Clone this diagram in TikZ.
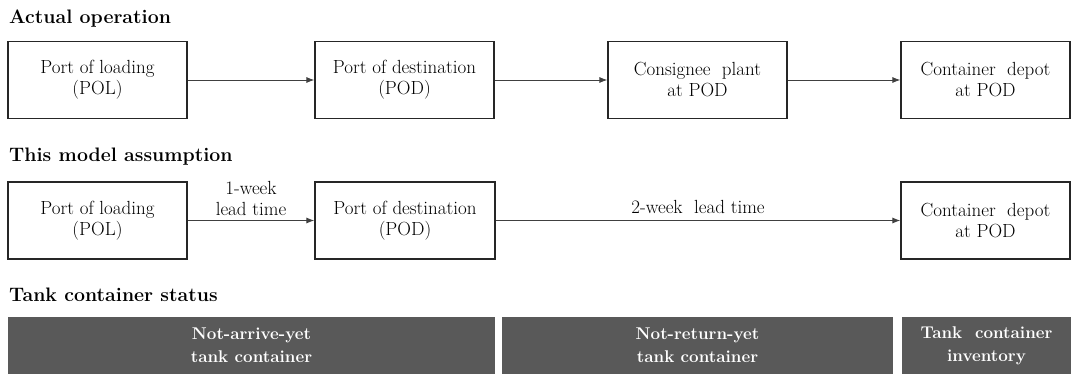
\documentclass[tikz,border=0pt]{standalone}
\usetikzlibrary{arrows.meta}
\definecolor{barfill}{RGB}{89,89,89}
\definecolor{lineclr}{RGB}{64,64,64}

\begin{document}
\begin{tikzpicture}[x=1pt,y=-1pt,
  stagebox/.style={draw=black!85,line width=1.2pt,minimum height=77,inner sep=0pt,
    align=center,font=\fontsize{19}{21}\selectfont},
  heading/.style={anchor=west,inner sep=0pt,font=\fontsize{19.5}{22}\selectfont\bfseries},
  statusbar/.style={fill=barfill,text=white,minimum height=57,inner sep=0pt,
    align=center,font=\fontsize{17}{23}\selectfont\bfseries},
  flow/.style={draw=lineclr,line width=0.9pt,-{Latex[length=8pt,width=6pt]}},
  lbl/.style={align=center,font=\fontsize{19}{21}\selectfont}]
\useasboundingbox (0,0) rectangle (1071,374);

% actual operation
\node[heading] (hactual) at (9,19) {Actual operation};
\node[stagebox,minimum width=179] (pol) at (97.5,80) {Port of loading\\(POL)};
\node[stagebox,minimum width=179] (pod) at (404.5,80) {Port of destination\\(POD)};
\node[stagebox,minimum width=179] (plant) at (697.5,80) {Consignee\ \ plant\\at POD};
\node[stagebox,minimum width=169] (depot) at (985.5,80) {Container\ \ depot\\at POD};
\draw[flow] (pol) -- (pod);
\draw[flow] (pod) -- (plant);
\draw[flow] (plant) -- (depot);

% model assumption
\node[heading] (hmodel) at (9,157) {This model assumption};
\node[stagebox,minimum width=179] (mpol) at (97.5,220.5) {Port of loading\\(POL)};
\node[stagebox,minimum width=180] (mpod) at (405,220.5) {Port of destination\\(POD)};
\node[stagebox,minimum width=169] (mdepot) at (985.5,220.5) {Container\ \ depot\\at POD};
\draw[flow] (mpol) -- node[lbl,above=1pt] (week1) {1-week\\lead time} (mpod);
\draw[flow] (mpod) -- node[lbl,above=3pt] (week2) {2-week\ \ lead time} (mdepot);

% tank container status
\node[heading] (hstatus) at (9,295) {Tank container status};
\node[statusbar,minimum width=487] (notarrive) at (251.5,345.5) {Not-arrive-yet\\tank container};
\node[statusbar,minimum width=391] (notreturn) at (697.5,345.5) {Not-return-yet\\tank container};
\node[statusbar,minimum width=169] (inventory) at (986.5,345.5) {Tank\ \ container\\inventory};
\end{tikzpicture}
\end{document}
